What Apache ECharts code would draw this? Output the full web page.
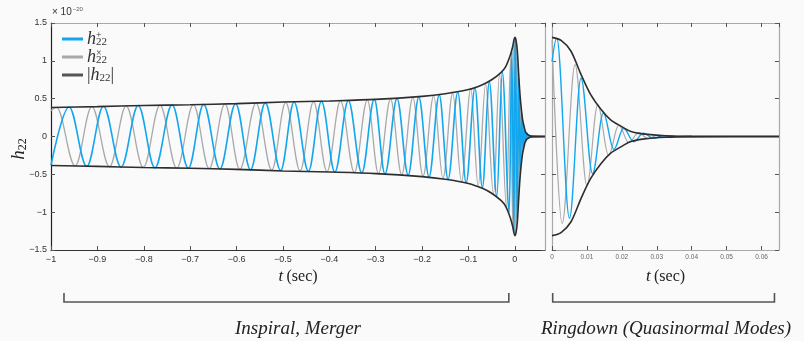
<!DOCTYPE html>
<html>
<head>
<meta charset="utf-8">
<script src="https://cdn.jsdelivr.net/npm/echarts@6/dist/echarts.min.js"></script>
<style>
  html, body { margin: 0; padding: 0; background: #fafafa; }
  #chart { width: 804px; height: 341px; }
</style>
</head>
<body>
<div id="chart"></div>
<script>
// strain h_22 in units of 1e-20, as [t (sec), value]
const blueInspiral = [
  [-1, -0.38],
  [-0.961, 0.39], [-0.923, -0.395], [-0.887, 0.40], [-0.849, -0.405], [-0.812, 0.41], [-0.776, -0.415],
  [-0.739, 0.42], [-0.704, -0.42], [-0.671, 0.425], [-0.636, -0.43], [-0.602, 0.435], [-0.570, -0.44],
  [-0.538, 0.445], [-0.505, -0.45], [-0.476, 0.455], [-0.445, -0.46], [-0.417, 0.465], [-0.388, -0.47],
  [-0.359, 0.475], [-0.330, -0.48], [-0.303, 0.49], [-0.280, -0.495], [-0.254, 0.50], [-0.230, -0.51],
  [-0.207, 0.52], [-0.185, -0.535], [-0.163, 0.55], [-0.144, -0.565], [-0.123, 0.585], [-0.105, -0.61],
  [-0.086, 0.64], [-0.070, -0.675], [-0.055, 0.72], [-0.039, -0.79], [-0.027, 0.85], [-0.012, -1.0],
  [-0.0065, 1.12], [-0.002, -1.26]
];
const grayInspiral = [
  [-1, 0.34],
  [-0.988, 0.385], [-0.948, -0.39], [-0.912, 0.395], [-0.874, -0.40], [-0.838, 0.405], [-0.801, -0.41],
  [-0.765, 0.415], [-0.729, -0.42], [-0.693, 0.42], [-0.659, -0.425], [-0.625, 0.43], [-0.593, -0.435],
  [-0.558, 0.44], [-0.524, -0.445], [-0.494, 0.45], [-0.463, -0.455], [-0.434, 0.46], [-0.405, -0.465],
  [-0.376, 0.47], [-0.346, -0.475], [-0.318, 0.485], [-0.294, -0.49], [-0.268, 0.495], [-0.244, -0.505],
  [-0.220, 0.515], [-0.198, -0.525], [-0.175, 0.54], [-0.155, -0.555], [-0.134, 0.575], [-0.115, -0.595],
  [-0.095, 0.625], [-0.079, -0.655], [-0.063, 0.695], [-0.046, -0.76], [-0.033, 0.82], [-0.018, -0.93],
  [-0.009, 1.04], [-0.0047, -1.16], [-0.0004, 1.30]
];
const envInspiral = [
  [-1, 0.384], [-0.9, 0.395], [-0.8, 0.41], [-0.7, 0.42], [-0.6, 0.435], [-0.5, 0.455],
  [-0.4, 0.47], [-0.3, 0.49], [-0.2, 0.53], [-0.15, 0.565], [-0.1, 0.62], [-0.07, 0.685],
  [-0.05, 0.75], [-0.03, 0.845], [-0.02, 0.92], [-0.01, 1.07], [-0.005, 1.18]
];
const blueRingdown = [
  [0, 0.99], [0.00136, 1.30], [0.005, -1.08], [0.0083, 0.77], [0.0116, -0.49], [0.0147, 0.31],
  [0.0177, -0.17], [0.0205, 0.11], [0.0234, -0.07], [0.0262, 0.045], [0.029, -0.025], [0.032, 0.012],
  [0.036, 0], [0.065, 0]
];
const grayRingdown = [
  [0, 1.28], [0.0029, -1.15], [0.0066, 0.95], [0.0100, -0.65], [0.0131, 0.42], [0.0162, -0.25],
  [0.0191, 0.15], [0.022, -0.08], [0.0248, 0.05], [0.0276, -0.03], [0.030, 0.015], [0.035, 0],
  [0.065, 0]
];
const envRingdown = [
  [0, 1.31], [0.0026, 1.27], [0.0054, 1.13], [0.0083, 0.82], [0.011, 0.56], [0.014, 0.36],
  [0.0168, 0.22], [0.0196, 0.14], [0.0224, 0.07], [0.026, 0.035], [0.0325, 0.01], [0.04, 0.002],
  [0.065, 0]
];
const yTicks = [-1.5, 1.5, 0.5];   // min, max, step
const leftRange = [-1, 0.065, 0.1];
const rightRange = [0, 0.065, 0.01];
const seriesNames = ['plus', 'cross', 'abs'];

const BLUE = '#12a6ee';
const GRAY = '#a9a9a9';
const DARK = '#2e2e2e';
const serif = 'Liberation Serif';

const minus = (v) => String(v).replace('-', '\u2212');
const neg = (arr) => arr.map(([t, v]) => [t, -v]);

const blueAll = blueInspiral.concat(blueRingdown);
const grayAll = grayInspiral.concat(grayRingdown);
const envAll = envInspiral.concat(envRingdown);
const mergerFill = envAll.filter(([t]) => t >= -0.008 && t <= 0.04);

const xAxisBase = (gridIndex, range, pos, labels) => ({
  type: 'value', gridIndex, position: pos,
  min: range[0], max: range[1], interval: range[2],
  axisLine: { show: true, onZero: false, lineStyle: { color: pos === 'bottom' && gridIndex === 0 ? '#333' : '#a8a8a8', width: 1.2 } },
  axisTick: { show: true, inside: true, length: 4, lineStyle: { color: '#555' } },
  axisLabel: labels
    ? { show: true, formatter: minus, fontSize: gridIndex === 0 ? 9 : 6.5, color: gridIndex === 0 ? '#333' : '#666', margin: gridIndex === 0 ? 5 : 4, fontFamily: 'Liberation Sans', showMaxLabel: false }
    : { show: false },
  splitLine: { show: false }
});
const yAxisBase = (gridIndex, pos, labels) => ({
  type: 'value', gridIndex, position: pos,
  min: yTicks[0], max: yTicks[1], interval: yTicks[2],
  axisLine: { show: true, onZero: false, lineStyle: { color: pos === 'left' && gridIndex === 0 ? '#222' : '#a8a8a8', width: 1.2 } },
  axisTick: { show: true, inside: true, length: 4, lineStyle: { color: '#555' } },
  axisLabel: labels
    ? { show: true, formatter: minus, fontSize: 9, color: '#333', margin: 4, fontFamily: 'Liberation Sans' }
    : { show: false },
  splitLine: { show: false }
});

const wave = (name, data, color, width, xi, z) => ({
  type: 'line', name, data, xAxisIndex: xi, yAxisIndex: xi,
  showSymbol: false, symbol: 'none', smooth: 0.36, smoothMonotone: 'x',
  color, lineStyle: { color, width }, itemStyle: { color }, z, silent: true, animation: false
});
const env = (data, xi) => ({
  type: 'line', name: 'abs', data, xAxisIndex: xi, yAxisIndex: xi,
  showSymbol: false, symbol: 'none', smooth: 0.3,
  color: DARK, lineStyle: { color: DARK, width: 1.6 }, itemStyle: { color: '#555' }, z: 5, silent: true, animation: false
});
const fill = (data) => ({
  type: 'line', name: 'fill', data, xAxisIndex: 0, yAxisIndex: 0,
  showSymbol: false, symbol: 'none', smooth: 0.3,
  lineStyle: { width: 0 }, areaStyle: { color: '#b8b8b8', opacity: 1 }, z: 1, silent: true, animation: false
});

const chart = echarts.init(document.getElementById('chart'));
chart.setOption({
  backgroundColor: '#fafafa',
  animation: false,
  grid: [
    { left: 51, right: 259, top: 23, bottom: 91 },
    { left: 552, right: 25, top: 23, bottom: 91 }
  ],
  xAxis: [
    xAxisBase(0, leftRange, 'bottom', true),
    xAxisBase(0, leftRange, 'top', false),
    xAxisBase(1, rightRange, 'bottom', true),
    xAxisBase(1, rightRange, 'top', false)
  ],
  yAxis: [
    yAxisBase(0, 'left', true),
    yAxisBase(0, 'right', false),
    yAxisBase(1, 'left', false),
    yAxisBase(1, 'right', false)
  ],
  legend: {
    data: seriesNames,
    orient: 'vertical', left: 57, top: 25, itemGap: 0,
    icon: 'rect', itemWidth: 21, itemHeight: 3,
    selectedMode: false,
    formatter: (n) => n === 'plus' ? '{h|h}{sup|+}{sub|22}'
      : n === 'cross' ? '{h|h}{sup|\u00d7}{sub|22}'
      : '{bar||}{h|h}{sub|22}{bar||}',
    textStyle: {
      padding: [0, 0, 0, -1],
      rich: {
        h: { fontFamily: serif, fontStyle: 'italic', fontSize: 18, color: '#333', lineHeight: 17 },
        sup: { fontFamily: serif, fontSize: 10, color: '#333', width: 0, verticalAlign: 'top', lineHeight: 8 },
        sub: { fontFamily: serif, fontSize: 11, color: '#333', verticalAlign: 'bottom', lineHeight: 9 },
        bar: { fontFamily: serif, fontSize: 18, color: '#333', lineHeight: 17 }
      }
    }
  },
  series: [
    fill(mergerFill),
    fill(neg(mergerFill)),
    wave('cross', grayAll, GRAY, 1.3, 0, 2),
    wave('plus', blueAll, BLUE, 1.6, 0, 3),
    env(envAll, 0),
    env(neg(envAll), 0),
    wave('cross', grayRingdown, GRAY, 1.2, 2, 2),
    wave('plus', blueRingdown, BLUE, 1.4, 2, 3),
    env(envRingdown, 2),
    env(neg(envRingdown), 2)
  ]
});

// annotations placed from the axes
const px = (xi, t) => chart.convertToPixel({ xAxisIndex: xi }, t);
const leftMid = (px(0, leftRange[0]) + px(0, leftRange[1])) / 2;
const rightMid = (px(2, rightRange[0]) + px(2, rightRange[1])) / 2;
const bracket = (x0, x1) => ({
  type: 'polyline',
  shape: { points: [[x0, 293], [x0, 302], [x1, 302], [x1, 293]] },
  style: { stroke: '#555', lineWidth: 1.6, fill: null }
});
const tSec = (cx) => ({
  type: 'text', x: cx, y: 277,
  style: {
    text: '{t|t} {s|(sec)}', align: 'center', verticalAlign: 'middle',
    rich: {
      t: { fontFamily: serif, fontStyle: 'italic', fontSize: 17, fill: '#222' },
      s: { fontFamily: serif, fontSize: 16, fill: '#222' }
    }
  }
});
chart.setOption({
  graphic: [
    {
      type: 'text', x: 52, y: 12,
      style: {
        text: '{a|\u00d7 10}{b|\u221220}', verticalAlign: 'middle',
        rich: {
          a: { fontFamily: 'Liberation Sans', fontSize: 10, fill: '#333' },
          b: { fontFamily: 'Liberation Sans', fontSize: 6, fill: '#555', verticalAlign: 'top', padding: [0, 0, 6, 1] }
        }
      }
    },
    {
      type: 'text', x: 19, y: 149, rotation: Math.PI / 2,
      style: {
        text: '{h|h}{s|22}', align: 'center', verticalAlign: 'middle',
        rich: {
          h: { fontFamily: serif, fontStyle: 'italic', fontSize: 19, fill: '#222', lineHeight: 20 },
          s: { fontFamily: serif, fontSize: 12, fill: '#222', verticalAlign: 'bottom', lineHeight: 12 }
        }
      }
    },
    tSec(leftMid),
    tSec(rightMid),
    bracket(px(0, -0.972), px(0, -0.013)),
    bracket(px(2, 0.0002), px(2, 0.0637)),
    {
      type: 'text', x: 298, y: 329,
      style: { text: 'Inspiral, Merger', align: 'center', verticalAlign: 'middle',
        fontFamily: serif, fontStyle: 'italic', fontSize: 19, fill: '#222' }
    },
    {
      type: 'text', x: 666, y: 329,
      style: { text: 'Ringdown (Quasinormal Modes)', align: 'center', verticalAlign: 'middle',
        fontFamily: serif, fontStyle: 'italic', fontSize: 19, fill: '#222' }
    }
  ]
});
</script>
</body>
</html>
